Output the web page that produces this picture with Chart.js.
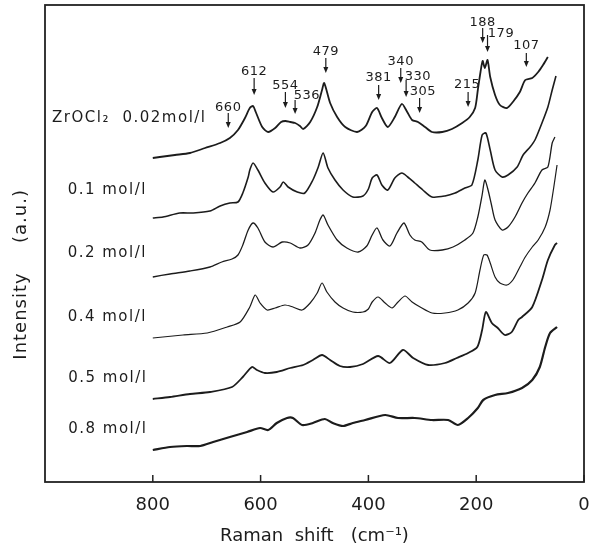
<!DOCTYPE html>
<html>
<head>
<meta charset="utf-8">
<script src="https://cdn.jsdelivr.net/npm/chart.js@4"></script>
<style>
  html, body { margin: 0; padding: 0; background: #fff; }
</style>
</head>
<body>
<canvas id="ramanChart" width="590" height="551"></canvas>
<script>
// Raman spectra of ZrOCl2 solutions (shift in cm-1, intensity in a.u. stacked)
const shift002 = [800,787,759,731,703,675,657,642,629,620,614,609,597,586,573,562,554,545,536,527,521,508,495,486,482,471,458,443,421,405,393,384,375,364,351,338,328,319,308,295,282,263,245,226,212,202,197,192,188,184,179,174,165,156,143,132,119,109,96,85,76,67];
const int002   = [324,325,327,329,334,339,344,352,364,374,376,370,355,350,354,360,361,360,359,356,353,360,375,392,399,379,365,355,350,356,370,374,364,355,365,378,370,362,360,355,350,350,353,359,365,374,392,410,421,414,422,405,387,377,374,380,390,402,404,410,417,425];

const shift01 = [800,781,750,725,694,675,657,642,633,623,620,614,605,592,577,564,558,549,532,518,503,493,484,475,462,447,429,410,400,393,384,375,364,351,338,327,314,299,282,258,239,221,208,197,189,182,174,165,152,141,124,113,100,91,78,67,59,52];
const int01   = [264,265,269,269,271,276,279,280,289,305,312,319,312,299,290,295,300,295,290,289,302,315,329,314,302,292,285,286,293,304,307,297,292,304,309,305,299,292,285,286,289,294,297,322,347,349,332,312,305,307,315,327,335,342,359,375,392,406];

const shift02 = [800,768,731,694,672,653,642,633,623,614,605,592,577,560,545,527,512,499,490,484,475,458,440,419,403,393,384,373,360,347,334,323,314,301,286,263,243,221,206,197,189,184,178,172,165,152,141,128,115,104,91,78,67,59,54];
const int02   = [205,208,211,215,220,223,227,237,252,259,254,240,235,240,239,234,237,249,262,267,257,242,234,230,236,247,254,242,236,249,259,247,242,240,232,232,235,242,249,265,287,302,292,278,262,252,255,265,279,289,299,312,315,339,345];

const shift04 = [800,744,699,662,638,620,610,601,588,573,555,540,523,508,495,486,477,462,447,429,410,400,393,382,369,356,345,332,319,304,282,258,234,215,202,193,186,180,174,165,156,143,132,119,109,96,85,72,63,56,50];
const int04   = [144,147,149,155,160,175,187,179,172,174,177,175,172,179,189,199,190,180,174,170,170,173,180,185,179,174,180,186,180,175,169,169,172,179,189,212,227,227,219,205,199,197,202,215,225,235,242,255,272,295,317];

const shift05 = [800,768,731,694,653,633,616,607,592,570,545,521,503,486,471,453,434,410,382,360,336,317,289,258,236,215,198,189,182,171,160,147,134,122,115,96,78,67,54,50];
const int05   = [83,85,88,90,95,105,115,112,109,110,114,117,122,127,122,116,115,118,126,119,132,124,117,119,124,129,135,152,170,159,154,147,150,162,165,175,202,222,237,239];

const shift08 = [800,768,737,712,688,657,625,601,586,570,551,540,523,503,481,466,447,429,406,369,345,314,282,252,234,215,197,187,165,141,115,96,82,72,63,50];
const int08   = [32,35,36,36,40,45,50,54,52,59,64,64,57,59,63,59,56,59,62,67,64,64,62,62,57,64,74,82,87,89,94,102,115,135,149,155];

const seriesNames = ['ZrOCl\u2082  0.02mol/l', '0.1 mol/l', '0.2 mol/l', '0.4 mol/l', '0.5 mol/l', '0.8 mol/l'];
const peakShifts = [660, 612, 554, 536, 479, 381, 340, 330, 305, 215, 188, 179, 107];
const xTicks = [800, 600, 400, 200, 0];

// where the text and arrows sit (shift, intensity)
const namePlaces = [[987, 364], [958, 292], [958, 229], [958, 165], [957, 104], [957, 53]];
const arrowPlaces = [
  // arrow top, arrow tip, label shift, label y
  [369, 354, 660, 374],
  [404, 387, 612, 410],
  [390, 374, 554, 396],
  [382, 368, 514, 386],
  [424, 409, 479, 430],
  [397, 382, 381, 404],
  [414, 399, 340, 420],
  [402, 385, 308, 405],
  [384, 369, 299, 390],
  [390, 375, 217, 397],
  [454, 439, 188, 459],
  [447, 430, 154, 448],
  [429, 415, 107, 436]
];

const spectra = [
  [shift002, int002, 1.8],
  [shift01, int01, 1.6],
  [shift02, int02, 1.3],
  [shift04, int04, 1.2],
  [shift05, int05, 1.8],
  [shift08, int08, 2.2]
];

const ink = '#1c1c1c';
const fontFam = '"DejaVu Sans", sans-serif';

const framePlugin = {
  id: 'frame',
  afterDraw(chart) {
    const { ctx, chartArea: a } = chart;
    const xs = chart.scales.x;
    ctx.save();
    ctx.strokeStyle = '#222';
    ctx.lineWidth = 1.8;
    ctx.strokeRect(a.left, a.top, a.right - a.left, a.bottom - a.top);
    ctx.lineWidth = 1.5;
    xTicks.forEach(v => {
      const px = xs.getPixelForValue(v);
      ctx.beginPath();
      ctx.moveTo(px, a.bottom);
      ctx.lineTo(px, a.bottom - 7);
      ctx.stroke();
    });
    ctx.restore();
  }
};

const notesPlugin = {
  id: 'notes',
  afterDatasetsDraw(chart) {
    const { ctx } = chart;
    const xs = chart.scales.x, ys = chart.scales.y;
    ctx.save();
    ctx.fillStyle = ink;
    ctx.strokeStyle = ink;

    // series names
    ctx.font = '15px ' + fontFam;
    ctx.letterSpacing = '1.5px';
    ctx.textAlign = 'left';
    ctx.textBaseline = 'middle';
    seriesNames.forEach((name, i) => {
      ctx.fillText(name, xs.getPixelForValue(namePlaces[i][0]), ys.getPixelForValue(namePlaces[i][1]));
    });

    // peak arrows
    ctx.font = '13px ' + fontFam;
    ctx.letterSpacing = '0.5px';
    ctx.textAlign = 'center';
    ctx.lineWidth = 1.2;
    peakShifts.forEach((p, i) => {
      const [top, tip, lx, ly] = arrowPlaces[i];
      const px = xs.getPixelForValue(p);
      const y0 = ys.getPixelForValue(top), y1 = ys.getPixelForValue(tip);
      ctx.beginPath();
      ctx.moveTo(px, y0);
      ctx.lineTo(px, y1 - 4);
      ctx.stroke();
      ctx.beginPath();
      ctx.moveTo(px - 2.5, y1 - 6);
      ctx.lineTo(px + 2.5, y1 - 6);
      ctx.lineTo(px, y1);
      ctx.closePath();
      ctx.fill();
      ctx.fillText(String(p), xs.getPixelForValue(lx), ys.getPixelForValue(ly));
    });

    // y title
    ctx.font = '18px ' + fontFam;
    ctx.letterSpacing = '1px';
    ctx.translate(21, 0);
    ctx.rotate(-Math.PI / 2);
    ctx.fillText('Intensity', -316, 0);
    ctx.fillText('(a.u.)', -216, 0);
    ctx.restore();
  }
};

const ctx = document.getElementById('ramanChart').getContext('2d');

const ramanChart = new Chart(ctx, {
  type: 'line',
  data: {
    datasets: spectra.map((s, i) => ({
      label: seriesNames[i],
      data: s[0].map((x, j) => ({ x: x, y: s[1][j] })),
      borderColor: ink,
      borderWidth: s[2],
      pointRadius: 0,
      tension: 0.25,
      fill: false
    }))
  },
  options: {
    responsive: false,
    animation: false,
    layout: { padding: { left: 45, top: 5, right: 6, bottom: 0 } },
    plugins: {
      legend: { display: false },
      tooltip: { enabled: false }
    },
    scales: {
      x: {
        type: 'linear',
        reverse: true,
        min: 0,
        max: 1000,
        grid: { display: false, drawTicks: false },
        border: { display: false },
        ticks: {
          stepSize: 200,
          padding: 13,
          maxRotation: 0,
          color: ink,
          font: { family: fontFam, size: 18 },
          callback: v => (xTicks.includes(v) ? String(v) : '')
        },
        title: {
          display: true,
          text: 'Raman  shift   (cm\u207B\u00B9)',
          color: ink,
          font: { family: fontFam, size: 18 },
          padding: { top: 0, bottom: 4 }
        },
        afterFit: s => {
          s.height = 69;
          s.paddingLeft = 0;
          s.paddingRight = 0;
        }
      },
      y: { display: false, min: 0, max: 477 }
    }
  },
  plugins: [framePlugin, notesPlugin]
});
</script>
</body>
</html>
